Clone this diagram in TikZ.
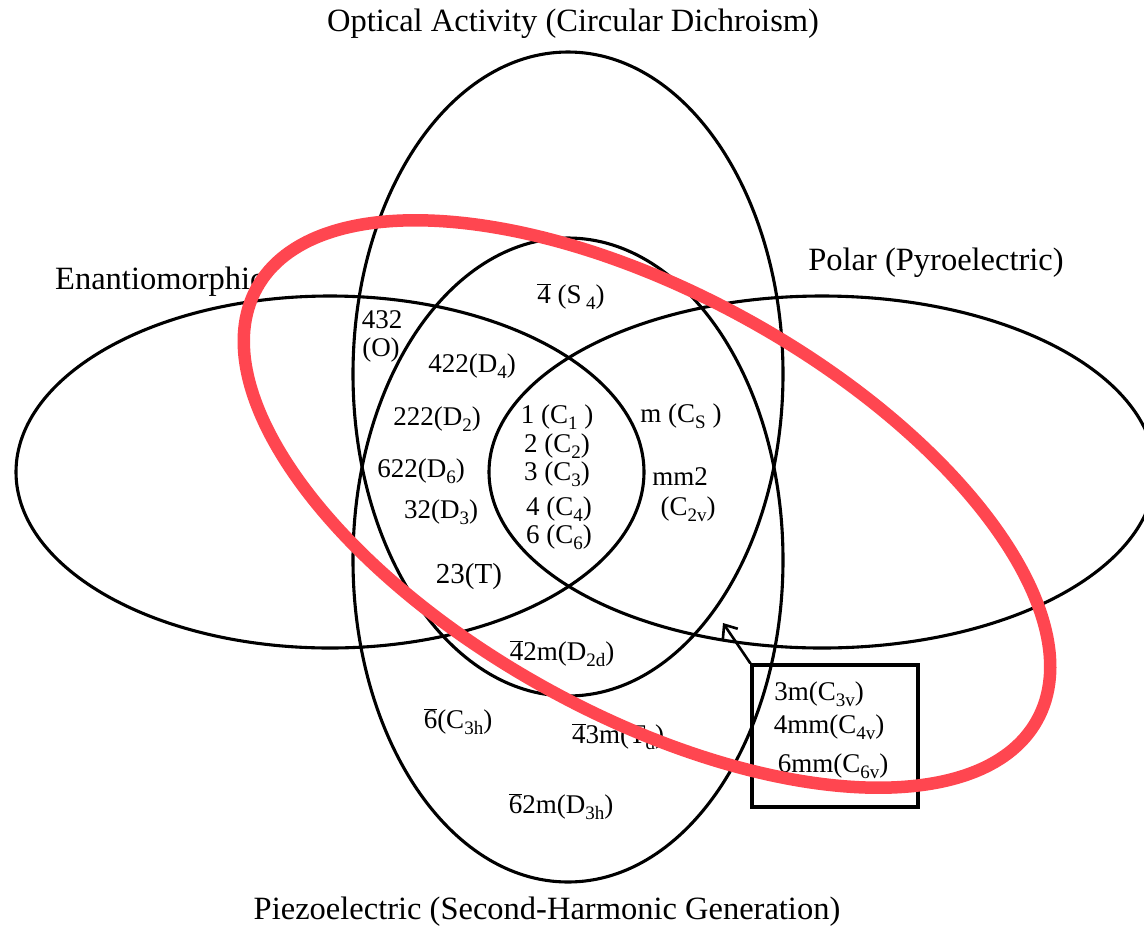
\documentclass[tikz,border=0pt]{standalone}
\usepackage{fontspec}
\setmainfont{Liberation Serif}
\usetikzlibrary{arrows.meta}
\definecolor{hl}{RGB}{255,70,80}
\newcommand{\ob}[1]{$\overline{\hbox{#1}}$}
\newcommand{\sbs}[1]{\raisebox{-6.5pt}{\fontsize{19}{20}\selectfont #1}}
\begin{document}
\begin{tikzpicture}[x=1pt,y=-1pt,
  ring/.style={draw=black, line width=3.1pt},
  ttl/.style={font=\fontsize{32.5}{36}\selectfont, inner sep=0pt, anchor=base},
  cls/.style={font=\fontsize{27}{30}\selectfont, inner sep=0pt, anchor=base},
  boxst/.style={draw=black, line width=3.1pt, minimum width=166, minimum height=142, inner sep=0pt},
  pointer/.style={draw=black, line width=2.6pt, -{Straight Barb[length=11pt,width=18pt]}},
  hilite/.style={draw=hl, line width=12.5pt}
]
\useasboundingbox (0,0) rectangle (1144,930);
\fill[white] (0,0) rectangle (1144,930);
\clip (0,0) rectangle (1144,930);

% sets
\draw[ring] (568,374) ellipse [x radius=215, y radius=322]; % optical activity
\draw[ring] (568,560) ellipse [x radius=215, y radius=322]; % piezoelectric
\draw[ring] (330,472) ellipse [x radius=314, y radius=176]; % enantiomorphic
\draw[ring] (822,472) ellipse [x radius=333, y radius=176]; % polar

% titles
\node[ttl] (tOA) at (573,31) {Optical Activity (Circular Dichroism)};
\node[ttl, anchor=base west] (tEn) at (55,289) {Enantiomorphic};
\node[ttl] (tPo) at (936,270) {Polar (Pyroelectric)};
\node[ttl] (tPz) at (547,919) {Piezoelectric (Second-Harmonic Generation)};

% classes
\node[cls] (s4) at (571,303) {\ob{4} (S\,\sbs{4})};
\node[cls] (o1) at (382,328) {432};
\node[cls] (o2) at (381,356) {(O)};
\node[cls] (d4) at (472,372) {422(D\sbs{4})};
\node[cls] (d2) at (437,425) {222(D\sbs{2})};
\node[cls] (d6) at (421,477) {622(D\sbs{6})};
\node[cls] (d3) at (441,518) {32(D\sbs{3})};
\node[cls, font=\fontsize{29}{32}\selectfont] (tt) at (469,583) {23(T)};
\node[cls] (c1) at (557,423) {1 (C\sbs{1} )};
\node[cls] (c2) at (557,452) {2 (C\sbs{2})};
\node[cls] (c3) at (557,480) {3 (C\sbs{3})};
\node[cls] (c4) at (559,515) {4 (C\sbs{4})};
\node[cls] (c6) at (559,543) {6 (C\sbs{6})};
\node[cls] (cs) at (681,422) {m (C\sbs{S} )};
\node[cls] (mm) at (680,485) {mm2};
\node[cls] (c2v) at (688,515) {(C\sbs{2v})};
\node[cls] (d2d) at (562,660) {\ob{4}2m(D\sbs{2d})};
\node[cls] (c3h) at (458,728) {\ob{6}(C\sbs{3h})};
\node[cls] (td) at (618,743) {\ob{4}3m(T\sbs{d})};
\node[cls] (d3h) at (561,813) {\ob{6}2m(D\sbs{3h})};

% box of polar piezo classes
\node[boxst] (bx) at (835,736) {};
\node[cls] (c3v) at (819,700) {3m(C\sbs{3v})};
\node[cls] (c4v) at (829,733) {4mm(C\sbs{4v})};
\node[cls] (c6v) at (833,772) {6mm(C\sbs{6v})};
\coordinate (hd) at (723,623);
\draw[pointer] (bx.north west) -- (hd);

% highlight
\draw[hilite, rotate around={-29:(647,504)}] (647,504) ellipse [x radius=446, y radius=210];
\end{tikzpicture}
\end{document}
